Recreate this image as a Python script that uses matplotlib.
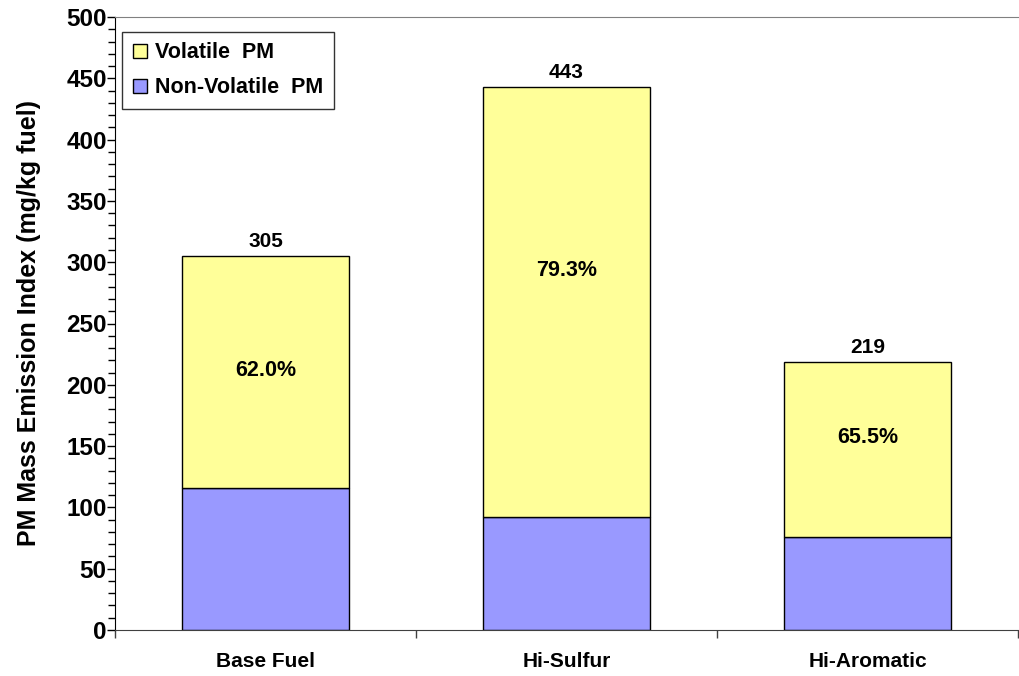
import numpy as np
import matplotlib.pyplot as plt
from matplotlib.ticker import MultipleLocator

plt.rcParams['font.family'] = ['Liberation Sans', 'DejaVu Sans']
plt.rcParams['font.weight'] = 'bold'

categories = ["Base Fuel", "Hi-Sulfur", "Hi-Aromatic"]
totals = [305, 443, 219]
non_volatile = [116, 92, 76]
volatile_pct = ["62.0%", "79.3%", "65.5%"]
pct_label_y = [212, 293, 157]

volatile = [t - n for t, n in zip(totals, non_volatile)]
x = np.arange(len(categories))

fig = plt.figure(figsize=(10.19, 6.76), dpi=100)
ax = fig.add_axes([115 / 1019, 46 / 676, 903 / 1019, 613 / 676])

w = 0.554
ax.bar(x, non_volatile, w, color="#9999FF", edgecolor="black", linewidth=1.0,
       label="Non-Volatile  PM")
ax.bar(x, volatile, w, bottom=non_volatile, color="#FFFF99", edgecolor="black",
       linewidth=1.0, label="Volatile  PM")

for i in range(len(categories)):
    ax.text(x[i], totals[i] + 4, str(totals[i]), ha="center", va="bottom",
            fontsize=15, fontweight="bold")
    ax.text(x[i], pct_label_y[i], volatile_pct[i], ha="center", va="center",
            fontsize=15.5, fontweight="bold")

ax.set_xlim(-0.5, 2.5)
ax.set_ylim(0, 500)
ax.yaxis.set_major_locator(MultipleLocator(50))
ax.yaxis.set_minor_locator(MultipleLocator(10))
ax.set_xticks([-0.5, 0.5, 1.5, 2.5])
ax.set_xticklabels([])
ax.set_xticks(x, minor=True)
ax.set_xticklabels(categories, minor=True, fontsize=15, fontweight="bold")
ax.tick_params(axis="x", which="minor", length=0, pad=16)
ax.tick_params(axis="x", which="major", length=6, width=1, color="#404040")
ax.tick_params(axis="y", which="major", length=6, width=1, labelsize=17.5, pad=0)
ax.tick_params(axis="y", which="minor", length=5, width=1)
for lab in ax.get_yticklabels():
    lab.set_fontweight("bold")

ax.spines["right"].set_visible(False)
ax.spines["top"].set_color("#808080")
ax.spines["bottom"].set_color("#404040")
ax.spines["left"].set_color("black")

ax.set_ylabel("PM Mass Emission Index (mg/kg fuel)", fontsize=18,
              fontweight="bold", labelpad=18)

handles, labels = ax.get_legend_handles_labels()
leg = ax.legend(handles[::-1], labels[::-1], loc="upper left",
                bbox_to_anchor=(0.008, 0.976), fontsize=15.5, frameon=True,
                fancybox=False, edgecolor="black", handlelength=0.65,
                handleheight=0.65, handletextpad=0.35, borderpad=0.5,
                labelspacing=0.65, borderaxespad=0)
leg.get_frame().set_linewidth(1.0)
for t in leg.get_texts():
    t.set_fontweight("bold")

fig.savefig("out.png", dpi=100)
